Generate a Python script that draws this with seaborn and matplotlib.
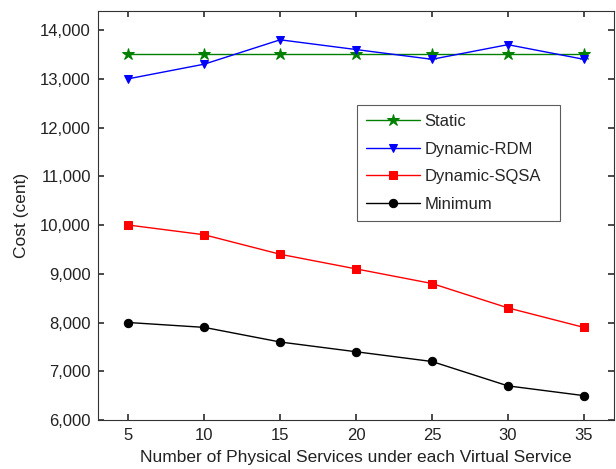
import matplotlib
matplotlib.use("Agg")
import matplotlib.pyplot as plt
import matplotlib.ticker as mticker
import seaborn as sns
import pandas as pd

x_values = [5, 10, 15, 20, 25, 30, 35]
static = [13500, 13500, 13500, 13500, 13500, 13500, 13500]
dynamic_rdm = [13000, 13300, 13800, 13600, 13400, 13700, 13400]
dynamic_sqsa = [10000, 9800, 9400, 9100, 8800, 8300, 7900]
minimum = [8000, 7900, 7600, 7400, 7200, 6700, 6500]
series_names = ["Static", "Dynamic-RDM", "Dynamic-SQSA", "Minimum"]
y_ticks = [6000, 7000, 8000, 9000, 10000, 11000, 12000, 13000, 14000]

sns.set_theme(style="ticks")
plt.rcParams['font.family'] = ['Liberation Sans', 'DejaVu Sans']

rows = []
for name, vals in zip(series_names, [static, dynamic_rdm, dynamic_sqsa, minimum]):
    for xv, yv in zip(x_values, vals):
        rows.append({"x": xv, "y": yv, "series": name})
df = pd.DataFrame(rows)

palette = {"Static": "#008000", "Dynamic-RDM": "#0000ff",
           "Dynamic-SQSA": "#ff0000", "Minimum": "#000000"}
markers = {"Static": "*", "Dynamic-RDM": "v", "Dynamic-SQSA": "s", "Minimum": "o"}
sizes = {"Static": 9, "Dynamic-RDM": 6, "Dynamic-SQSA": 6, "Minimum": 6}

fig = plt.figure(figsize=(6.16, 4.69), dpi=100)
ax = fig.add_axes([0.159, 0.1045, 0.838, 0.873])

for name in series_names:
    sub = df[df["series"] == name]
    sns.lineplot(data=sub, x="x", y="y", ax=ax, color=palette[name],
                 marker=markers[name], markersize=sizes[name],
                 markeredgecolor=palette[name], linewidth=1.0, label=name)

ax.set_xlim(3, 37)
ax.set_ylim(6000, 14400)
ax.set_xticks(x_values)
ax.set_yticks(y_ticks)
ax.yaxis.set_major_formatter(mticker.FuncFormatter(lambda v, p: f"{int(v):,}"))
ax.tick_params(direction="in", top=True, right=True, labelsize=12, length=4,
               colors="#333333", labelcolor="#222222")
ax.tick_params(axis="y", pad=5)
ax.tick_params(axis="x", pad=6)
for s in ax.spines.values():
    s.set_linewidth(0.8)
    s.set_color("#333333")
ax.set_xlabel("Number of Physical Services under each Virtual Service", fontsize=12.5, color="#222222", labelpad=5)
ax.set_ylabel("Cost (cent)", fontsize=12.5, color="#222222", labelpad=8)
ax.grid(False)

leg = ax.legend(loc="upper left", bbox_to_anchor=(0.502, 0.5, 0.393, 0.27),
                mode="expand", fontsize=12,
                frameon=True, fancybox=False, edgecolor="#333333",
                handlelength=3.2, labelspacing=0.76, borderpad=0.55,
                handletextpad=0.3, borderaxespad=0)
leg.get_frame().set_linewidth(0.8)

fig.savefig("out.png", dpi=100)
